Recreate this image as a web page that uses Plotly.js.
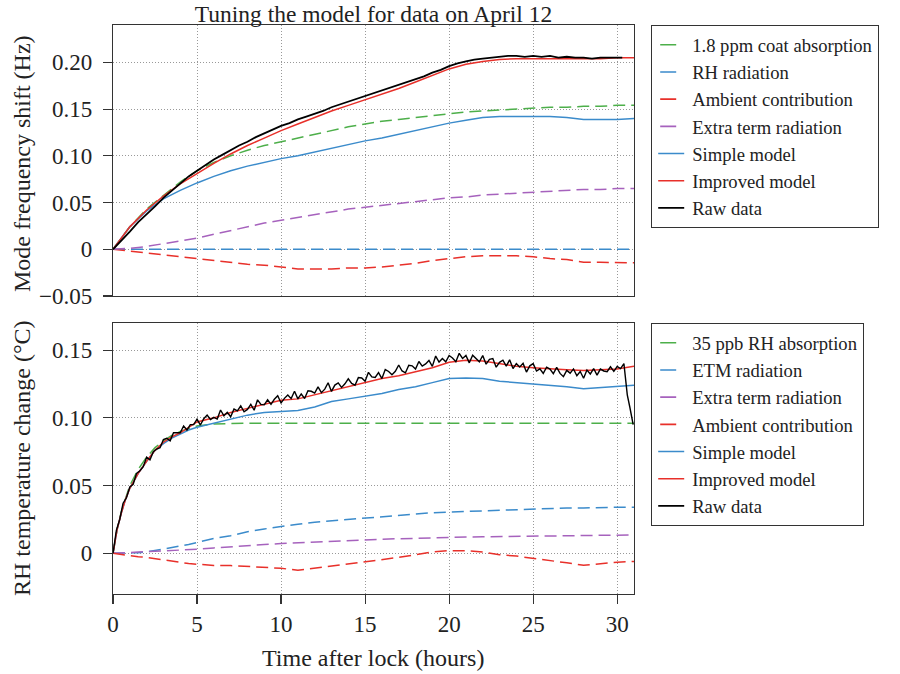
<!DOCTYPE html>
<html>
<head>
<meta charset="utf-8">
<script src="https://cdn.plot.ly/plotly-3.0.1.min.js"></script>
<style>html,body{margin:0;padding:0;background:#fff;}#chart{width:900px;height:674px;}</style>
</head>
<body>
<div id="chart"></div>
<script>
// ---------- Top panel: mode frequency shift (Hz) ----------
const hoursTop = [0,1,2,3,4,5,6,7,8,9,10,11,12,13,14,15,16,17,18,19,20,21,22,23,24,25,26,27,28,29,30,31];
const coatAbsorption = [0,0.024,0.043,0.058,0.072,0.084,0.093,0.100,0.106,0.111,0.115,0.119,0.123,0.127,0.131,0.134,0.137,0.139,0.141,0.143,0.145,0.147,0.148,0.149,0.150,0.151,0.152,0.152,0.153,0.153,0.154,0.154];
const rhRadiationTop = [0,0,0,0,0,0,0,0,0,0,0,0,0,0,0,0,0,0,0,0,0,0,0,0,0,0,0,0,0,0,0,0];
const ambientTop = [0,-0.002,-0.004,-0.006,-0.008,-0.010,-0.012,-0.014,-0.016,-0.017,-0.019,-0.021,-0.021,-0.021,-0.020,-0.020,-0.019,-0.017,-0.015,-0.012,-0.010,-0.008,-0.007,-0.007,-0.007,-0.008,-0.010,-0.011,-0.014,-0.014,-0.014,-0.0145];
const extraTop = [0,0.001,0.003,0.006,0.009,0.012,0.016,0.020,0.024,0.028,0.031,0.034,0.037,0.040,0.043,0.045,0.047,0.049,0.051,0.053,0.055,0.056,0.058,0.059,0.060,0.061,0.062,0.063,0.064,0.064,0.065,0.065];
const simpleTop = [0,0.024,0.041,0.054,0.063,0.071,0.078,0.084,0.089,0.093,0.097,0.100,0.104,0.108,0.112,0.116,0.119,0.123,0.127,0.131,0.135,0.138,0.141,0.142,0.142,0.142,0.142,0.141,0.139,0.139,0.139,0.140];
const improvedTop = [0,0.024,0.042,0.057,0.070,0.081,0.092,0.102,0.111,0.119,0.127,0.134,0.141,0.148,0.154,0.160,0.166,0.172,0.179,0.186,0.193,0.198,0.201,0.203,0.204,0.204,0.204,0.204,0.204,0.204,0.205,0.205];
const rawHoursTop = [0,0.5,1,1.5,2,2.5,3,3.5,4,4.5,5,5.5,6,6.5,7,7.5,8,8.5,9,9.5,10,10.5,11,11.5,12,12.5,13,13.5,14,14.5,15,15.5,16,16.5,17,17.5,18,18.5,19,19.5,20,20.5,21,21.5,22,22.5,23,23.5,24,24.5,25,25.5,26,26.5,27,27.5,28,28.5,29,29.5,30,30.3];
const rawTop = [0,0.009,0.019,0.029,0.037,0.046,0.055,0.063,0.071,0.078,0.084,0.090,0.096,0.101,0.106,0.111,0.115,0.120,0.124,0.128,0.132,0.135,0.139,0.142,0.145,0.148,0.152,0.155,0.158,0.161,0.164,0.167,0.170,0.173,0.176,0.179,0.182,0.185,0.189,0.192,0.196,0.199,0.201,0.203,0.204,0.205,0.206,0.207,0.207,0.206,0.207,0.206,0.207,0.205,0.206,0.205,0.205,0.204,0.205,0.205,0.205,0.205];

// ---------- Bottom panel: RH temperature change (°C) ----------
const hoursBot = [0,0.25,0.5,0.75,1,1.5,2,2.5,3,3.5,4,4.5,5,6,7,8,9,10,11,12,13,14,15,16,17,18,19,20,21,22,23,24,25,26,27,28,29,30,31];
const rhAbsorption = [0,0.018,0.031,0.041,0.050,0.062,0.071,0.078,0.083,0.087,0.090,0.092,0.094,0.0955,0.096,0.096,0.096,0.096,0.096,0.096,0.096,0.096,0.096,0.096,0.096,0.096,0.096,0.096,0.096,0.096,0.096,0.096,0.096,0.096,0.096,0.096,0.096,0.096,0.096];
const etmRadiation = [0,0,0,0,0,0.0005,0.001,0.002,0.003,0.004,0.005,0.0065,0.008,0.011,0.013,0.016,0.018,0.020,0.0215,0.023,0.024,0.025,0.0265,0.0275,0.028,0.029,0.030,0.0305,0.031,0.0315,0.032,0.0325,0.033,0.033,0.0335,0.0335,0.034,0.034,0.034];
const extraBot = [0,0,0,0,0.0005,0.001,0.0012,0.0015,0.0018,0.002,0.0023,0.0027,0.003,0.004,0.005,0.0058,0.0065,0.0072,0.0078,0.0084,0.009,0.0095,0.0100,0.0104,0.0108,0.0112,0.0115,0.0118,0.0120,0.0122,0.0124,0.0126,0.0128,0.0130,0.0131,0.0132,0.0134,0.0135,0.0136];
const ambientBot = [0,-0.0005,-0.001,-0.0015,-0.002,-0.0025,-0.003,-0.004,-0.005,-0.006,-0.007,-0.0075,-0.008,-0.009,-0.009,-0.0095,-0.010,-0.011,-0.0125,-0.011,-0.009,-0.0075,-0.0065,-0.005,-0.003,-0.001,0.001,0.002,0.002,0.001,-0.001,-0.002,-0.0035,-0.005,-0.007,-0.0088,-0.0075,-0.0065,-0.006];
const simpleBot = [0,0.018,0.030,0.040,0.048,0.059,0.068,0.076,0.081,0.085,0.088,0.091,0.093,0.096,0.099,0.102,0.104,0.105,0.1055,0.108,0.112,0.114,0.116,0.118,0.121,0.123,0.126,0.129,0.1295,0.129,0.127,0.126,0.125,0.1245,0.123,0.1215,0.1225,0.123,0.124];
const improvedBot = [0,0.018,0.030,0.040,0.048,0.059,0.068,0.076,0.082,0.086,0.089,0.093,0.097,0.100,0.104,0.107,0.110,0.113,0.114,0.117,0.120,0.123,0.126,0.129,0.131,0.134,0.137,0.141,0.1425,0.142,0.140,0.138,0.137,0.136,0.1355,0.135,0.1355,0.136,0.138];
const rawHoursBot = [0,0.2,0.4,0.6,0.8,1.0,1.2,1.4,1.6,1.8,2.0,2.2,2.4,2.6,2.8,3.0,3.2,3.4,3.6,3.8,4.0,4.2,4.4,4.6,4.8,5.0,
  5.2,5.4,5.6,5.8,6.0,6.2,6.4,6.6,6.8,7.0,7.2,7.4,7.6,7.8,8.0,8.2,8.4,8.6,8.8,9.0,9.2,9.4,9.6,9.8,10.0,
  10.2,10.4,10.6,10.8,11.0,11.2,11.4,11.6,11.8,12.0,12.2,12.4,12.6,12.8,13.0,13.2,13.4,13.6,13.8,14.0,14.2,14.4,14.6,14.8,15.0,
  15.2,15.4,15.6,15.8,16.0,16.2,16.4,16.6,16.8,17.0,17.2,17.4,17.6,17.8,18.0,18.2,18.4,18.6,18.8,19.0,19.2,19.4,19.6,19.8,20.0,
  20.2,20.4,20.6,20.8,21.0,21.2,21.4,21.6,21.8,22.0,22.2,22.4,22.6,22.8,23.0,23.2,23.4,23.6,23.8,24.0,24.2,24.4,24.6,24.8,25.0,
  25.2,25.4,25.6,25.8,26.0,26.2,26.4,26.6,26.8,27.0,27.2,27.4,27.6,27.8,28.0,28.2,28.4,28.6,28.8,29.0,29.2,29.4,29.6,29.8,30.0,
  30.2,30.4,30.5,30.6,30.75,30.85,30.95];
const rawBot = [0,0.017,0.025,0.037,0.041,0.049,0.051,0.059,0.061,0.064,0.071,0.069,0.075,0.077,0.078,0.084,0.085,0.083,0.089,0.089,0.089,0.094,0.091,0.095,0.095,0.099,
  0.0947,0.0994,0.1021,0.0988,0.1004,0.0991,0.1058,0.1015,0.1041,0.1008,0.1065,0.1052,0.1089,0.1045,0.1062,0.1099,0.1056,0.1133,0.1099,0.1096,0.1133,0.1100,0.1137,0.1163,0.1110,
  0.1144,0.1168,0.1142,0.1196,0.1140,0.1177,0.1143,0.1200,0.1196,0.1183,0.1229,0.1186,0.1212,0.1259,0.1195,0.1242,0.1258,0.1225,0.1251,0.1288,0.1254,0.1241,0.1297,0.1294,0.1270,
  0.1336,0.1302,0.1298,0.1334,0.1290,0.1356,0.1342,0.1318,0.1344,0.1390,0.1346,0.1332,0.1388,0.1384,0.1360,0.1416,0.1382,0.1398,0.1424,0.1380,0.1456,0.1412,0.1438,0.1414,0.1460,
  0.1442,0.1414,0.1476,0.1438,0.1460,0.1406,0.1462,0.1438,0.1414,0.1460,0.1396,0.1432,0.1438,0.1374,0.1410,0.1426,0.1382,0.1428,0.1364,0.1400,0.1376,0.1402,0.1338,0.1384,0.1400,
  0.1346,0.1362,0.1328,0.1374,0.1360,0.1326,0.1372,0.1328,0.1304,0.1350,0.1330,0.1361,0.1311,0.1342,0.1292,0.1353,0.1324,0.1364,0.1315,0.1360,0.1346,0.1341,0.1377,0.1343,0.1379,
  0.1364,0.1400,0.126,0.117,0.108,0.102,0.095];

const topLabels = ['1.8 ppm coat absorption','RH radiation','Ambient contribution','Extra term radiation','Simple model','Improved model','Raw data'];
const botLabels = ['35 ppb RH absorption','ETM radiation','Extra term radiation','Ambient contribution','Simple model','Improved model','Raw data'];
const topTickVals = [-0.05,0,0.05,0.10,0.15,0.20];
const topTickText = ['\u22120.05','0','0.05','0.10','0.15','0.20'];
const botTickVals = [0,0.05,0.10,0.15];
const botTickText = ['0','0.05','0.10','0.15'];
const xTickVals = [0,5,10,15,20,25,30];

const GREEN = '#4daf4a', BLUE = '#3b8bcb', RED = '#e8302a', PURPLE = '#a662bd', BLACK = '#000000';
const DASH = '12px,6px';
const LEGEND_DASH = '0px,3px,16px,300px';
const LEGEND_SOLID = '0px,1px,26px,300px';
const FONT = 'Liberation Serif, Times New Roman, serif';

// a plotted curve (legend entry drawn separately so the sample matches the reference style)
function curve(x, y, name, color, dash, xa, ya, leg, width) {
  return {x: x, y: y, name: name, type: 'scatter', mode: 'lines', xaxis: xa, yaxis: ya, legend: leg,
          showlegend: false, legendgroup: leg + name,
          line: {color: color, width: width || 1.5, dash: dash}};
}
// legend-only sample entry
function key(name, color, sampleDash, xa, ya, leg) {
  return {x: [null], y: [null], name: name, type: 'scatter', mode: 'lines', xaxis: xa, yaxis: ya, legend: leg,
          showlegend: true, legendgroup: leg + name,
          line: {color: color, width: 1.6, dash: sampleDash}};
}

const topSeries = [
  [hoursTop, coatAbsorption, GREEN, DASH, 1.5],
  [hoursTop, rhRadiationTop, BLUE, DASH, 1.5],
  [hoursTop, ambientTop, RED, DASH, 1.5],
  [hoursTop, extraTop, PURPLE, DASH, 1.5],
  [hoursTop, simpleTop, BLUE, 'solid', 1.5],
  [hoursTop, improvedTop, RED, 'solid', 1.5],
  [rawHoursTop, rawTop, BLACK, 'solid', 1.8]
];
const botSeries = [
  [hoursBot, rhAbsorption, GREEN, DASH, 1.5],
  [hoursBot, etmRadiation, BLUE, DASH, 1.5],
  [hoursBot, extraBot, PURPLE, DASH, 1.5],
  [hoursBot, ambientBot, RED, DASH, 1.5],
  [hoursBot, simpleBot, BLUE, 'solid', 1.5],
  [hoursBot, improvedBot, RED, 'solid', 1.5],
  [rawHoursBot, rawBot, BLACK, 'solid', 1.4]
];

const data = [];
topSeries.forEach((s, i) => data.push(curve(s[0], s[1], topLabels[i], s[2], s[3], 'x2', 'y2', 'legend', s[4])));
topSeries.forEach((s, i) => data.push(key(topLabels[i], s[2], s[3] === 'solid' ? LEGEND_SOLID : LEGEND_DASH, 'x2', 'y2', 'legend')));
botSeries.forEach((s, i) => data.push(curve(s[0], s[1], botLabels[i], s[2], s[3], 'x', 'y', 'legend2', s[4])));
botSeries.forEach((s, i) => data.push(key(botLabels[i], s[2], s[3] === 'solid' ? LEGEND_SOLID : LEGEND_DASH, 'x', 'y', 'legend2')));

const axisCommon = {
  showline: true, linecolor: '#333', linewidth: 1.2, mirror: true,
  showgrid: true, gridcolor: '#999', griddash: '1px,2px', gridwidth: 1,
  zeroline: false, tickfont: {family: FONT, size: 23, color: '#222'},
  ticks: 'outside', ticklen: 9, tickcolor: '#333', tickwidth: 1.2
};
const plotH = 674 - 25 - 80;
const legendFont = {family: FONT, size: 18.6, color: '#222'};
const layout = {
  width: 900, height: 674,
  paper_bgcolor: '#fff', plot_bgcolor: '#fff',
  margin: {l: 113, r: 266, t: 25, b: 80},
  font: {family: FONT, color: '#222'},
  showlegend: true,
  title: {text: 'Tuning the model for data on April 12', font: {family: FONT, size: 23.5, color: '#222'},
          x: 0.5, xref: 'paper', xanchor: 'center', y: 1 - 14/674, yref: 'container', yanchor: 'middle'},
  xaxis: Object.assign({}, axisCommon, {range: [0, 31], tickvals: xTickVals, anchor: 'y', ticklabelstandoff: 0}),
  yaxis: Object.assign({}, axisCommon, {range: [-0.03, 0.17], domain: [0, (594-323)/plotH], tickvals: botTickVals, ticktext: botTickText, anchor: 'x', ticklabelstandoff: 6}),
  xaxis2: Object.assign({}, axisCommon, {range: [0, 31], tickvals: xTickVals, showticklabels: false, ticks: '', anchor: 'y2', matches: 'x'}),
  yaxis2: Object.assign({}, axisCommon, {range: [-0.05, 0.24], domain: [(594-296)/plotH, 1], tickvals: topTickVals, ticktext: topTickText, anchor: 'x2', ticklabelstandoff: 6}),
  legend: {x: (651-113)/521, xanchor: 'left', y: 1, yanchor: 'top', bgcolor: '#fff', bordercolor: '#333', borderwidth: 1.2,
           font: legendFont, tracegroupgap: 0},
  legend2: {x: (651-113)/521, xanchor: 'left', y: (594-323)/plotH, yanchor: 'top', bgcolor: '#fff', bordercolor: '#333', borderwidth: 1.2,
           font: legendFont, tracegroupgap: 0},
  annotations: [
    {text: 'Mode frequency shift (Hz)', xref: 'paper', yref: 'paper', x: (22-113)/521, y: (594-164)/plotH, xanchor: 'center', yanchor: 'middle', textangle: -90, showarrow: false, font: {family: FONT, size: 24, color: '#222'}},
    {text: 'RH temperature change (\u00B0C)', xref: 'paper', yref: 'paper', x: (22-113)/521, y: (594-459)/plotH, xanchor: 'center', yanchor: 'middle', textangle: -90, showarrow: false, font: {family: FONT, size: 24, color: '#222'}},
    {text: 'Time after lock (hours)', xref: 'paper', yref: 'paper', x: (373-113)/521, y: (594-658)/plotH, xanchor: 'center', yanchor: 'middle', showarrow: false, font: {family: FONT, size: 24, color: '#222'}}
  ]
};
Plotly.newPlot('chart', data, layout, {displayModeBar: false, staticPlot: true});
</script>
</body>
</html>
